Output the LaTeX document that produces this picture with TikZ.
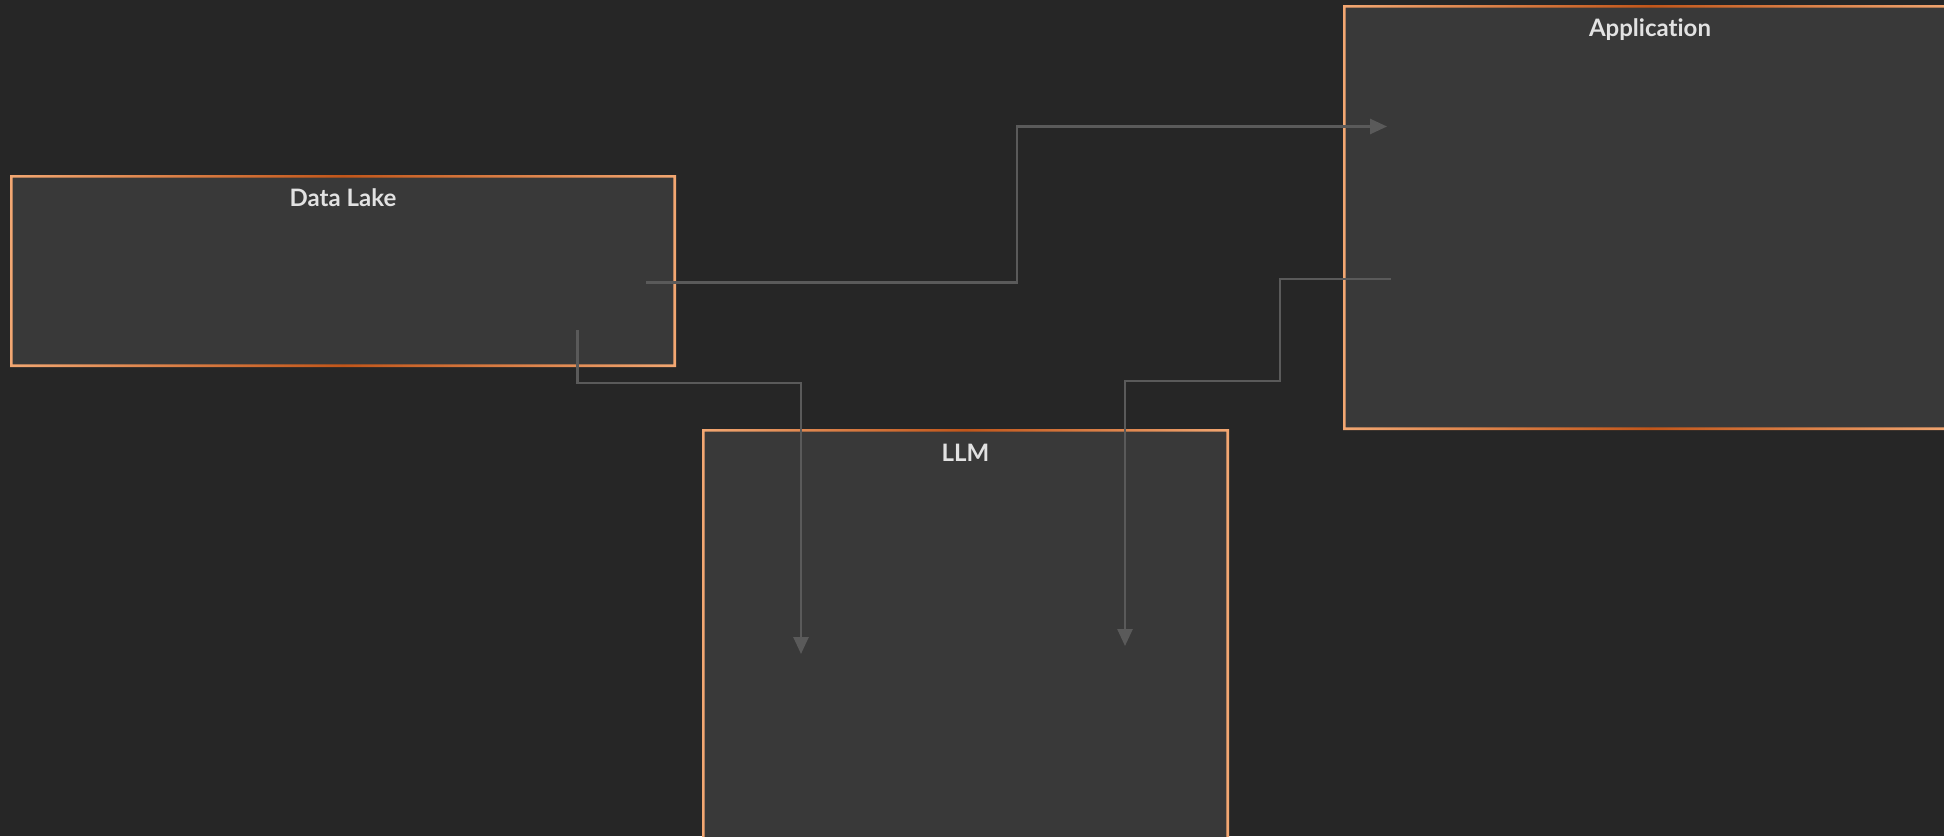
\documentclass[tikz,border=0pt]{standalone}
\usepackage{fontspec}
\setmainfont[Ligatures={NoCommon,NoDiscretionary,NoRare}]{Lato}
\usetikzlibrary{arrows.meta}
\definecolor{bg}{HTML}{262626}
\definecolor{boxfill}{HTML}{393939}
\definecolor{edgelight}{HTML}{F2A772}
\definecolor{edgedark}{HTML}{C2561A}
\definecolor{wire}{HTML}{5A5A5A}
\definecolor{titletext}{HTML}{E2E2E2}
\tikzset{
  boxnode/.style={fill=boxfill, draw=none, inner sep=0pt, outer sep=0pt},
  titlenode/.style={text=titletext, font=\fontsize{24}{28}\selectfont\bfseries, inner sep=0pt, anchor=center},
  wirepath/.style={draw=wire, line width=2.6pt, -{Triangle[width=15pt,length=17pt]}},
}
\newcommand{\gradedge}[1]{%
  \shade[even odd rule, left color=edgelight, right color=edgelight, middle color=edgedark]
    (#1.north west) rectangle (#1.south east)
    ([xshift=2.6pt,yshift=-2.6pt]#1.north west) rectangle ([xshift=-2.6pt,yshift=2.6pt]#1.south east);%
}
\begin{document}
\begin{tikzpicture}[x=1pt,y=-1pt]
  \fill[bg] (0,0) rectangle (1944,836);
  \useasboundingbox (0,0) rectangle (1944,836);
  \begin{scope}
    \clip (0,0) rectangle (1944,836);
    % boxes
    \node[boxnode, minimum width=666pt, minimum height=192pt] (dl) at (343,271) {};
    \node[boxnode, minimum width=614pt, minimum height=425pt] (app) at (1650,217.5) {};
    \node[boxnode, minimum width=527pt, minimum height=480pt] (llm) at (965.5,669) {};
    \gradedge{dl}
    \gradedge{app}
    \gradedge{llm}
    \node[titlenode] (dlt) at ([yshift=-23pt]dl.north) {Data Lake};
    \node[titlenode] (appt) at ([yshift=-25pt]app.north) {Application};
    \node[titlenode] (llmt) at ([yshift=-24pt]llm.north) {LLM};
    % connector end points
    \coordinate (s1) at (646,282.5);
    \coordinate (e1) at (1387,126.5);
    \coordinate (s2) at (577.5,330);
    \coordinate (e2) at (801,654);
    \coordinate (s3) at (1391,279);
    \coordinate (e3) at (1125,646);
    \draw[wirepath] (s1) -- (1017,282.5) -- (1017,126.5) -- (e1);
    \draw[wirepath] (s2) -- (577.5,383) -- (801,383) -- (e2);
    \draw[wirepath] (s3) -- (1280,279) -- (1280,381) -- (1125,381) -- (e3);
  \end{scope}
\end{tikzpicture}
\end{document}
